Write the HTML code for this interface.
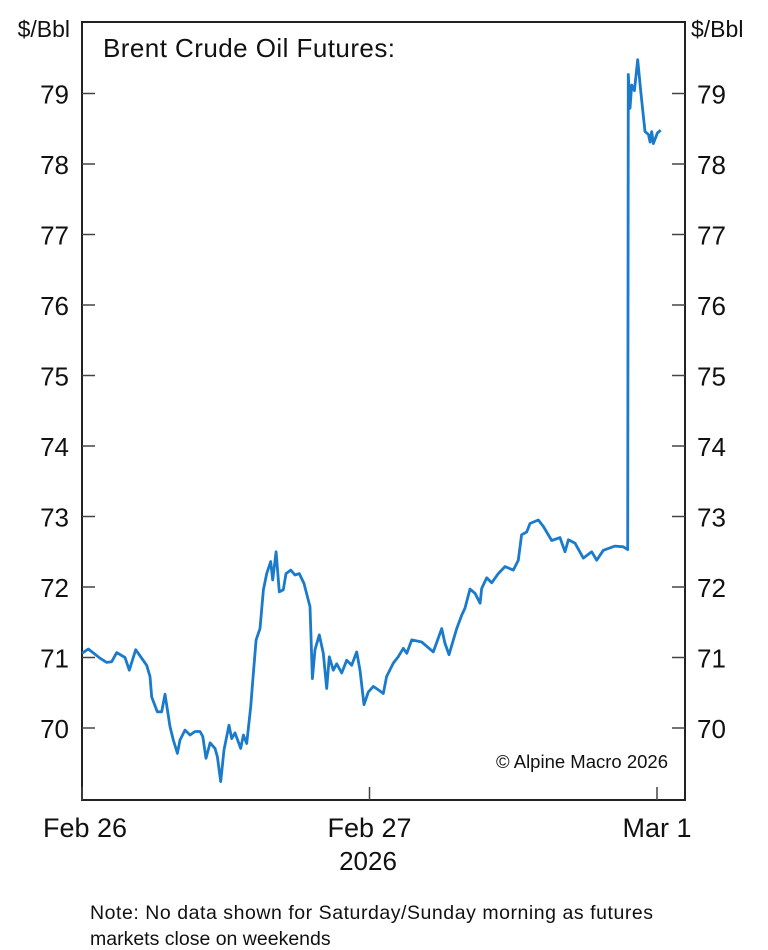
<!DOCTYPE html>
<html><head><meta charset="utf-8">
<style>
html,body{margin:0;padding:0;background:#fff;}
svg{display:block;font-family:"Liberation Sans",Arial,sans-serif;}
</style></head>
<body>
<svg id="chart" width="768" height="950" viewBox="0 0 768 950" xmlns="http://www.w3.org/2000/svg">
<rect x="82" y="22" width="603" height="778" fill="none" stroke="#222" stroke-width="2"/>
<g id="yticks"></g>
<g id="xticks"></g>
<text x="70" y="37" font-size="23" text-anchor="end" fill="#111">$/Bbl</text>
<text x="691" y="37" font-size="23" fill="#111">$/Bbl</text>
<text x="103" y="57" font-size="26" textLength="292" fill="#111">Brent Crude Oil Futures:</text>
<text x="668" y="768" font-size="18.5" text-anchor="end" fill="#111">© Alpine Macro 2026</text>
<text x="368" y="870" font-size="26" text-anchor="middle" fill="#111">2026</text>
<text x="90" y="919" font-size="19.5" textLength="563" fill="#111">Note: No data shown for Saturday/Sunday morning as futures</text>
<text x="90" y="945" font-size="19.5" fill="#111">markets close on weekends</text>
<path id="line" fill="none" stroke="#1a7acc" stroke-width="2.8" stroke-linejoin="round"/>
</svg>
<script>
const hours = [0,0.53,1.50,2.06,2.48,2.90,3.59,3.95,4.48,5.40,5.68,5.82,6.29,6.65,6.93,7.35,7.62,7.96,8.18,8.60,9.02,9.43,9.85,10.08,10.35,10.69,11.10,11.30,11.58,11.85,12.27,12.50,12.77,13.25,13.47,13.75,14.08,14.25,14.53,14.86,15.14,15.42,15.75,15.92,16.20,16.47,16.80,17.03,17.42,17.78,18.14,18.53,19.03,19.23,19.45,19.81,20.14,20.43,20.64,20.98,21.26,21.68,22.10,22.51,22.93,23.21,23.54,23.90,24.32,24.74,25.15,25.43,25.99,26.40,26.82,27.11,27.52,28.36,29.33,30.03,30.30,30.64,31.28,31.70,31.97,32.39,32.81,33.23,33.37,33.78,34.20,34.75,35.31,36.00,36.42,36.70,37.12,37.40,38.09,38.51,39.21,39.90,40.32,40.60,41.16,41.85,42.55,42.97,43.52,44.49,45.19,45.55,45.60,45.75,45.89,46.11,46.39,46.64,47.00,47.28,47.42,47.56,47.69,48.03,48.31];
const prices = [71.06,71.12,70.99,70.93,70.94,71.07,71.00,70.82,71.11,70.89,70.73,70.44,70.23,70.23,70.48,70.02,69.83,69.64,69.83,69.97,69.90,69.95,69.95,69.88,69.57,69.79,69.71,69.59,69.24,69.69,70.04,69.85,69.93,69.71,69.90,69.78,70.30,70.66,71.25,71.41,71.96,72.19,72.36,72.10,72.50,71.93,71.96,72.19,72.24,72.17,72.19,72.05,71.72,70.70,71.11,71.32,71.06,70.56,71.01,70.82,70.91,70.78,70.96,70.89,71.08,70.82,70.33,70.51,70.59,70.54,70.49,70.73,70.92,71.01,71.13,71.06,71.25,71.22,71.08,71.41,71.20,71.04,71.41,71.60,71.70,71.97,71.91,71.77,71.98,72.13,72.06,72.19,72.29,72.24,72.38,72.74,72.78,72.90,72.95,72.86,72.66,72.70,72.50,72.67,72.62,72.41,72.50,72.38,72.52,72.58,72.57,72.53,79.27,78.79,79.12,79.04,79.48,79.04,78.46,78.42,78.31,78.46,78.29,78.44,78.48];
const yTicks = [70,71,72,73,74,75,76,77,78,79];
const xTickHours = [0,24,48];
const xTickLabels = ["Feb 26","Feb 27","Mar 1"];

const NS = "http://www.w3.org/2000/svg";
function xs(h){ return 82 + h * (575/48); }
function ys(v){ return 728 - (v - 70) * 70.5; }

const yg = document.getElementById('yticks');
yTicks.forEach(v => {
  const y = ys(v);
  const t1 = document.createElementNS(NS,'line');
  
  
  t1.setAttribute('x1',82); t1.setAttribute('x2',95); t1.setAttribute('y1',y); t1.setAttribute('y2',y);
  t1.setAttribute('stroke','#444'); t1.setAttribute('stroke-width','1.5');
  yg.appendChild(t1);
  const t2 = document.createElementNS(NS,'line');
  
  
  t2.setAttribute('x1',672); t2.setAttribute('x2',685); t2.setAttribute('y1',y); t2.setAttribute('y2',y);
  t2.setAttribute('stroke','#444'); t2.setAttribute('stroke-width','1.5');
  yg.appendChild(t2);
  const l1 = document.createElementNS(NS,'text');
  
  
  l1.setAttribute('x',69); l1.setAttribute('y',y+10); l1.setAttribute('font-size','26'); l1.setAttribute('text-anchor','end'); l1.setAttribute('fill','#111');
  l1.textContent = v; yg.appendChild(l1);
  const l2 = document.createElementNS(NS,'text');
  
  
  l2.setAttribute('x',697); l2.setAttribute('y',y+10); l2.setAttribute('font-size','26'); l2.setAttribute('fill','#111');
  l2.textContent = v; yg.appendChild(l2);
});

const xg = document.getElementById('xticks');
xTickHours.forEach((h,i) => {
  const x = xs(h);
  const t = document.createElementNS(NS,'line');
  
  
  t.setAttribute('x1',x); t.setAttribute('x2',x); t.setAttribute('y1',787); t.setAttribute('y2',800);
  t.setAttribute('stroke','#444'); t.setAttribute('stroke-width','1.5');
  xg.appendChild(t);
  const l = document.createElementNS(NS,'text');
  
  
  l.setAttribute('x', i===0 ? x+3 : x); l.setAttribute('y',837); l.setAttribute('font-size','27'); l.setAttribute('text-anchor','middle'); l.setAttribute('fill','#111');
  l.textContent = xTickLabels[i]; xg.appendChild(l);
});

let d = '';
hours.forEach((h,i) => { d += (i ? 'L' : 'M') + xs(h).toFixed(1) + ',' + ys(prices[i]).toFixed(1); });
document.getElementById('line').setAttribute('d', d);
</script>
</body></html>
